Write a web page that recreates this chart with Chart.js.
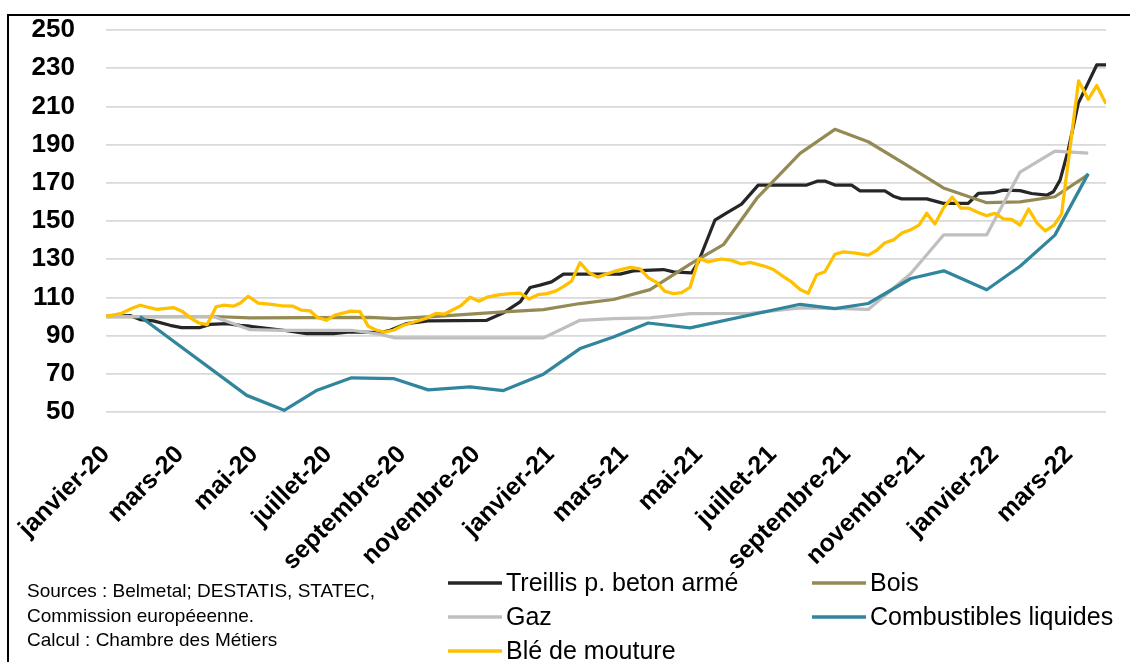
<!DOCTYPE html>
<html>
<head>
<meta charset="utf-8">
<script src="https://cdn.jsdelivr.net/npm/chart.js@4.4.0/dist/chart.umd.min.js"></script>
<style>
  html, body { margin: 0; padding: 0; background: #fff; overflow: hidden; }
  #chart { display: block; }
</style>
</head>
<body>
<canvas id="chart" width="1130" height="662"></canvas>
<script>
// month labels (x value = month index, 0 = janvier-20)
const monthLabels = [
    'janvier-20', 'février-20', 'mars-20', 'avril-20', 'mai-20', 'juin-20',
    'juillet-20', 'août-20', 'septembre-20', 'octobre-20', 'novembre-20', 'décembre-20',
    'janvier-21', 'février-21', 'mars-21', 'avril-21', 'mai-21', 'juin-21',
    'juillet-21', 'août-21', 'septembre-21', 'octobre-21', 'novembre-21', 'décembre-21',
    'janvier-22', 'février-22', 'mars-22', 'avril-22'
];
const yTicks = [50, 70, 90, 110, 130, 150, 170, 190, 210, 230, 250];

const seriesNames = ['Treillis p. beton armé', 'Bois', 'Gaz', 'Combustibles liquides', 'Blé de mouture'];

// Treillis p. beton armé
const treillisX = [0, 0.65, 0.92, 1.28, 1.73, 2.04, 2.54, 2.81, 3.26, 3.62, 3.89, 4.79, 5.42, 6.14, 6.59,
    7.40, 7.67, 8.12, 8.70, 10.28, 10.73, 11.18, 11.45, 11.72, 12.03, 12.35, 13.88, 14.24, 15.05, 15.32,
    15.81, 15.99, 16.44, 16.76, 17.16, 17.61, 18.92, 19.22, 19.41, 19.68, 20.13, 20.36, 21.03, 21.26, 21.48,
    22.16, 22.61, 23.28, 23.55, 23.96, 24.23, 24.68, 24.99, 25.40, 25.58, 25.76, 25.98, 26.25, 26.75, 27];
const treillisY = [100, 100.5, 98.4, 97.7, 95.4, 94.2, 94.2, 95.9, 96.3, 95.4, 94.9, 92.8, 91.0, 91.0, 91.9,
    91.5, 92.8, 96.3, 97.7, 98.0, 101.9, 107.6, 115.2, 116.4, 118.1, 122.2, 122.2, 123.9, 124.6, 123.4,
    122.8, 128.4, 150.4, 154.3, 158.8, 168.8, 168.8, 170.9, 170.9, 168.8, 168.8, 165.8, 165.8, 163.0, 161.6,
    161.6, 159.2, 159.2, 164.4, 164.8, 166.2, 165.9, 164.4, 163.5, 165.3, 171.4, 187.1, 211.6, 231.7, 231.7];

// Bois
const boisX = [0, 2.9, 3.89, 7.13, 7.80, 8.93, 10.73, 11.81, 12.80, 13.70, 14.69, 15.77, 16.67, 17.57,
    18.74, 19.68, 20.58, 21.62, 22.61, 23.78, 24.68, 25.62, 26.52];
const boisY = [100, 100, 99.3, 99.5, 98.9, 100.1, 102.4, 103.6, 106.8, 108.9, 114.1, 127.4, 137.6, 161.8,
    185.4, 198.0, 191.5, 179.3, 167.3, 159.6, 160.0, 162.7, 174.3];

// Gaz
const gazX = [0, 2.90, 3.89, 4.79, 6.63, 7.40, 7.80, 11.81, 12.80, 13.70, 14.69, 15.77, 17.39, 18.74,
    19.68, 20.58, 21.73, 22.62, 23.78, 24.68, 25.62, 26.52];
const gazY = [100, 100, 93.1, 92.8, 92.8, 90.7, 88.8, 88.8, 98.0, 98.9, 99.3, 101.5, 101.6, 104.5,
    104.2, 103.7, 122.5, 142.8, 142.8, 175.6, 186.6, 185.5];

// Combustibles liquides
const combX = [0.92, 3.80, 4.81, 5.70, 6.63, 7.76, 8.70, 9.83, 10.73, 11.81, 12.80, 13.70, 14.64, 15.77,
    18.74, 19.68, 20.58, 21.73, 22.62, 23.78, 24.68, 25.62, 26.52];
const combY = [100, 58.7, 50.9, 61.4, 67.9, 67.5, 61.6, 63.1, 61.2, 69.8, 83.2, 89.3, 96.6, 94.0,
    106.4, 104.1, 106.8, 119.9, 123.9, 114.0, 126.3, 142.6, 174.8];

// Blé de mouture
const bleX = [0, 0.42, 0.69, 0.92, 1.37, 1.82, 2.05, 2.31, 2.51, 2.73,
    2.97, 3.17, 3.44, 3.63, 3.84, 4.11, 4.47, 4.79, 5.05, 5.28,
    5.51, 5.71, 5.95, 6.18, 6.61, 6.86, 7.08, 7.31, 7.53, 7.76,
    8.03, 8.30, 8.59, 8.91, 9.13, 9.38, 9.58, 9.83, 10.07, 10.29,
    10.64, 10.93, 11.18, 11.42, 11.66, 11.91, 12.15, 12.37, 12.57, 12.80,
    13.04, 13.27, 13.72, 14.16, 14.42, 14.64, 14.87, 15.09, 15.32, 15.54,
    15.77, 16.01, 16.26, 16.60, 16.87, 17.16, 17.39, 17.81, 18.02, 18.29,
    18.51, 18.74, 18.96, 19.19, 19.41, 19.68, 19.91, 20.25, 20.58, 20.81,
    21.03, 21.26, 21.50, 21.73, 21.95, 22.16, 22.38, 22.62, 22.85, 23.08,
    23.30, 23.55, 23.78, 24.00, 24.23, 24.45, 24.68, 24.91, 25.14, 25.36,
    25.60, 25.80, 26.26, 26.52, 26.75, 27];
const bleY = [100, 101.7, 104.2, 105.9, 103.7, 104.7, 102.8, 98.9, 96.6, 95.7,
    105.0, 105.9, 105.4, 107.1, 110.6, 107.0, 106.3, 105.5, 105.4, 103.3,
    103.0, 99.5, 98.0, 100.7, 102.8, 102.5, 94.9, 92.8, 91.9, 92.8,
    95.4, 97.0, 98.7, 101.6, 101.2, 103.7, 105.6, 110.1, 108.0, 110.1,
    111.5, 112.0, 112.2, 109.2, 111.4, 112.0, 113.4, 115.9, 118.5, 128.2,
    122.9, 120.6, 123.6, 125.7, 124.9, 120.3, 117.9, 113.2, 112.0, 112.5,
    115.3, 130.4, 128.6, 130.1, 129.5, 127.5, 128.3, 126.2, 124.6, 120.9,
    118.1, 114.1, 112.2, 121.9, 123.4, 132.6, 133.8, 133.2, 132.1, 134.7,
    138.6, 140.1, 143.8, 145.4, 147.8, 154.1, 148.4, 157.1, 162.5, 156.7,
    156.7, 154.5, 152.8, 154.0, 151.1, 150.8, 147.8, 156.3, 148.9, 144.8,
    147.8, 153.7, 223.4, 213.7, 220.9, 211.4];

const colors = ['#262626', '#948a54', '#bfbfbf', '#31859c', '#ffc000'];

const sourceLines = [
    'Sources : Belmetal; DESTATIS, STATEC,',
    'Commission européeenne.',
    'Calcul : Chambre des Métiers'
];

function toPoints(xs, ys) {
    return xs.map((x, i) => ({x: x, y: ys[i]}));
}

const allX = [treillisX, boisX, gazX, combX, bleX];
const allY = [treillisY, boisY, gazY, combY, bleY];

const FONT = "'Liberation Sans', Arial, sans-serif";

// frame, sources note and two-column legend
const extras = {
    id: 'extras',
    beforeDraw(chart) {
        const ctx = chart.ctx;
        ctx.save();
        ctx.fillStyle = '#fff';
        ctx.fillRect(0, 0, chart.width, chart.height);
        ctx.strokeStyle = '#000';
        ctx.lineWidth = 2;
        ctx.strokeRect(8, 15, 1200, 800);
        ctx.restore();
    },
    afterDraw(chart) {
        const ctx = chart.ctx;
        ctx.save();
        ctx.fillStyle = '#000';
        ctx.textBaseline = 'middle';
        ctx.font = '19px ' + FONT;
        sourceLines.forEach((t, i) => ctx.fillText(t, 27, 592 + i * 24.5));

        ctx.font = '25px ' + FONT;
        chart.data.datasets.forEach((ds, i) => {
            const x = i % 2 === 0 ? 448 : 812;
            const y = 583 + Math.floor(i / 2) * 34;
            ctx.strokeStyle = ds.borderColor;
            ctx.lineWidth = 3.5;
            ctx.beginPath();
            ctx.moveTo(x, y);
            ctx.lineTo(x + 54, y);
            ctx.stroke();
            ctx.fillStyle = '#000';
            ctx.fillText(ds.label, x + 58, y + 1);
        });
        ctx.restore();
    }
};

const ctx = document.getElementById('chart').getContext('2d');
new Chart(ctx, {
    type: 'line',
    data: {
        datasets: seriesNames.map((name, i) => ({
            label: name,
            data: toPoints(allX[i], allY[i]),
            borderColor: colors[i],
            backgroundColor: colors[i],
            borderWidth: 3.25,
            pointRadius: 0,
            tension: 0,
            borderJoinStyle: 'round',
            order: seriesNames.length - i
        }))
    },
    options: {
        responsive: false,
        animation: false,
        layout: {
            padding: {left: 0, right: 24, top: 30, bottom: 50}
        },
        plugins: {
            legend: {display: false},
            tooltip: {enabled: false}
        },
        scales: {
            x: {
                type: 'linear',
                min: 0,
                max: monthLabels.length - 1,
                grid: {display: false},
                border: {display: false},
                afterFit: scale => { scale.height = 200; },
                ticks: {
                    stepSize: 2,
                    includeBounds: false,
                    autoSkip: false,
                    maxRotation: 45,
                    minRotation: 45,
                    padding: 20,
                    color: '#000',
                    font: {family: FONT, size: 25, weight: 'bold'},
                    callback: v => monthLabels[v] || ''
                }
            },
            y: {
                min: yTicks[0],
                max: yTicks[yTicks.length - 1],
                afterFit: scale => { scale.width = 106; },
                afterBuildTicks: scale => { scale.ticks = yTicks.map(v => ({value: v})); },
                grid: {color: '#d9d9d9', lineWidth: 1.75, drawTicks: true, tickLength: 31, tickColor: 'rgba(0,0,0,0)'},
                border: {display: false},
                ticks: {
                    padding: 0,
                    color: '#000',
                    font: {family: FONT, size: 26, weight: 'bold'}
                }
            }
        }
    },
    plugins: [extras]
});
</script>
</body>
</html>
